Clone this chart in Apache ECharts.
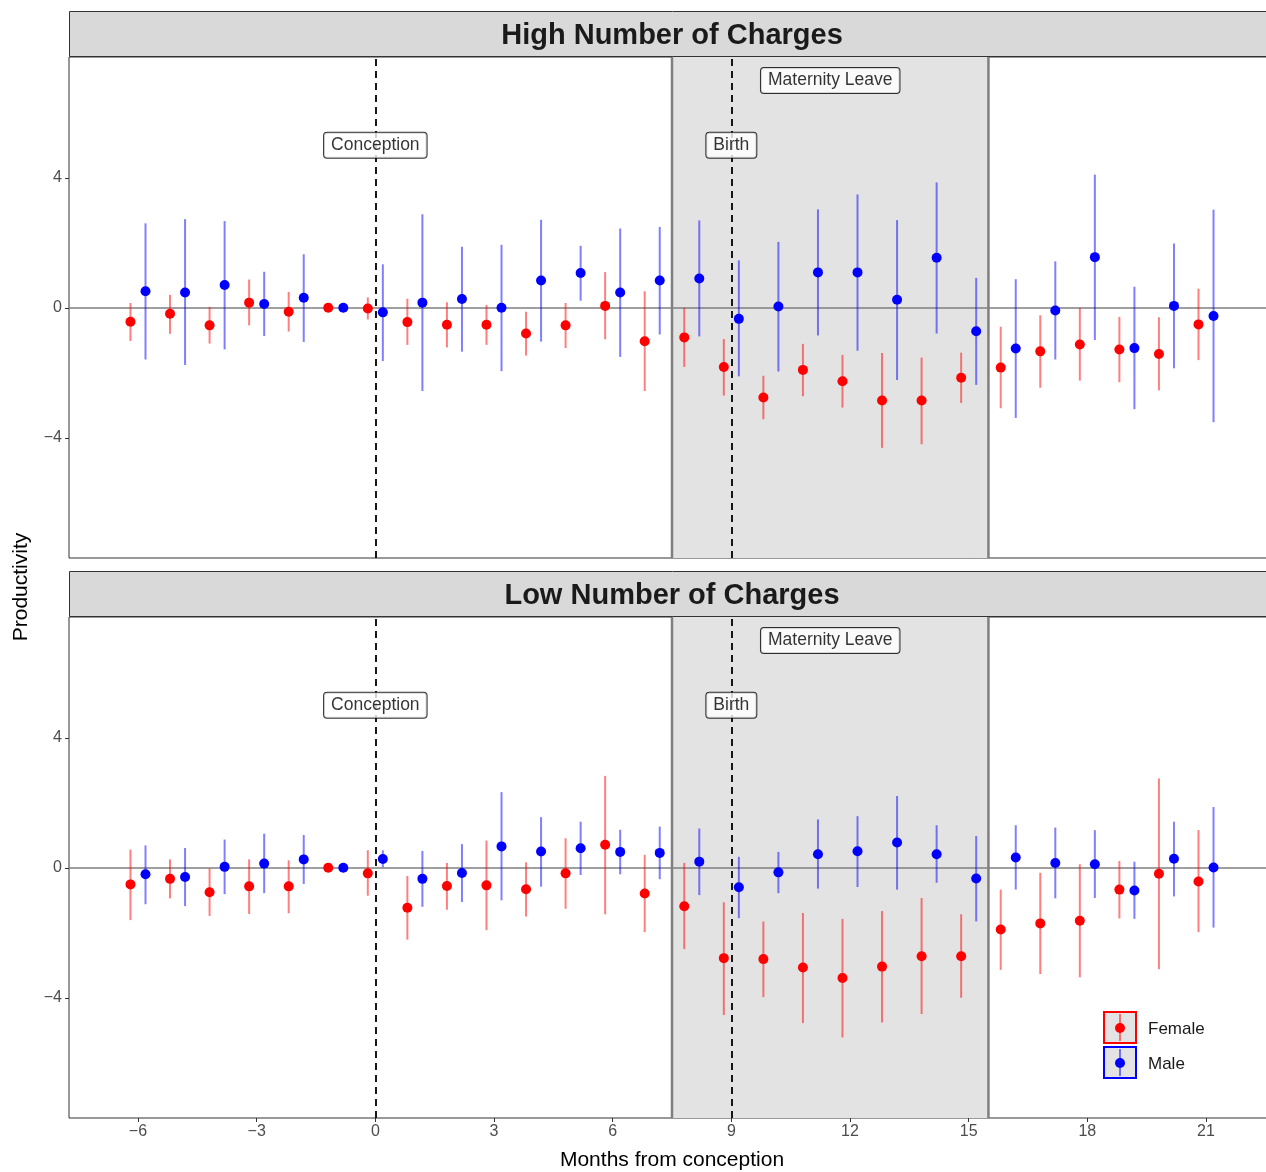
<!DOCTYPE html>
<html>
<head>
<meta charset="utf-8">
<script src="https://cdn.jsdelivr.net/npm/echarts@6/dist/echarts.min.js"></script>
<style>
  html, body { margin: 0; padding: 0; background: #fff; overflow: hidden; }
  #chart { width: 1280px; height: 1172px; }
</style>
</head>
<body>
<div id="chart"></div>
<script>
// months from conception
const months = [-6, -5, -4, -3, -2, -1, 0, 1, 2, 3, 4, 5, 6, 7, 8, 9, 10, 11, 12, 13, 14, 15, 16, 17, 18, 19, 20, 21];

// High number of charges
const highFemale = [-0.43, -0.18, -0.54, 0.16, -0.12, 0, -0.02, -0.44, -0.52, -0.52, -0.79, -0.54, 0.06, -1.03, -0.91, -1.82, -2.76, -1.91, -2.26, -2.85, -2.85, -2.15, -1.84, -1.34, -1.13, -1.28, -1.42, -0.51];
const highFemaleLo = [-1.02, -0.8, -1.1, -0.54, -0.73, 0, -0.36, -1.14, -1.22, -1.14, -1.47, -1.24, -0.97, -2.56, -1.82, -2.7, -3.43, -2.72, -3.07, -4.31, -4.2, -2.93, -3.09, -2.46, -2.24, -2.29, -2.54, -1.61];
const highFemaleHi = [0.15, 0.4, 0.03, 0.87, 0.49, 0, 0.32, 0.28, 0.17, 0.09, -0.12, 0.15, 1.1, 0.51, 0, -0.96, -2.09, -1.11, -1.45, -1.39, -1.53, -1.38, -0.58, -0.23, 0, -0.28, -0.29, 0.59];
const highMale = [0.51, 0.47, 0.7, 0.12, 0.31, 0, -0.14, 0.16, 0.27, 0, 0.84, 1.07, 0.47, 0.84, 0.9, -0.34, 0.04, 1.09, 1.09, 0.25, 1.54, -0.72, -1.25, -0.08, 1.56, -1.24, 0.06, -0.25];
const highMaleLo = [-1.59, -1.76, -1.28, -0.87, -1.05, 0, -1.64, -2.56, -1.35, -1.95, -1.04, 0.22, -1.51, -0.82, -0.88, -2.11, -1.96, -0.85, -1.32, -2.22, -0.79, -2.37, -3.39, -1.59, -0.99, -3.12, -1.86, -3.52];
const highMaleHi = [2.6, 2.73, 2.67, 1.11, 1.65, 0, 1.34, 2.88, 1.88, 1.94, 2.71, 1.91, 2.44, 2.49, 2.69, 1.46, 2.03, 3.03, 3.49, 2.7, 3.86, 0.92, 0.88, 1.43, 4.1, 0.65, 1.98, 3.02];

// Low number of charges
const lowFemale = [-0.51, -0.34, -0.75, -0.57, -0.57, 0, -0.17, -1.23, -0.56, -0.54, -0.66, -0.17, 0.71, -0.79, -1.18, -2.78, -2.81, -3.07, -3.39, -3.04, -2.72, -2.72, -1.9, -1.71, -1.63, -0.67, -0.18, -0.42];
const lowFemaleLo = [-1.61, -0.94, -1.48, -1.42, -1.4, 0, -0.86, -2.21, -1.29, -1.92, -1.5, -1.26, -1.43, -1.98, -2.5, -4.53, -3.98, -4.78, -5.22, -4.76, -4.5, -4.0, -3.14, -3.27, -3.37, -1.56, -3.12, -1.98];
const lowFemaleHi = [0.56, 0.26, -0.02, 0.26, 0.23, 0, 0.54, -0.25, 0.15, 0.84, 0.17, 0.91, 2.83, 0.4, 0.15, -1.06, -1.65, -1.39, -1.57, -1.33, -0.93, -1.43, -0.67, -0.15, 0.11, 0.21, 2.75, 1.16];
const lowMale = [-0.2, -0.28, 0.03, 0.13, 0.26, 0, 0.27, -0.34, -0.16, 0.66, 0.5, 0.6, 0.49, 0.46, 0.19, -0.6, -0.14, 0.42, 0.51, 0.78, 0.42, -0.33, 0.32, 0.15, 0.11, -0.7, 0.28, 0.01];
const lowMaleLo = [-1.12, -1.18, -0.81, -0.78, -0.5, 0, 0.02, -1.2, -1.05, -1.0, -0.58, -0.22, -0.2, -0.35, -0.84, -1.55, -0.78, -0.64, -0.59, -0.67, -0.46, -1.65, -0.67, -0.94, -0.93, -1.57, -0.88, -1.84];
const lowMaleHi = [0.69, 0.61, 0.87, 1.05, 1.01, 0, 0.54, 0.52, 0.73, 2.33, 1.56, 1.42, 1.17, 1.27, 1.21, 0.34, 0.49, 1.49, 1.59, 2.21, 1.31, 0.98, 1.31, 1.24, 1.16, 0.19, 1.42, 1.87];

// tick labels
const xTicks = [-6, -3, 0, 3, 6, 9, 12, 15, 18, 21];
const yTicks = [-4, 0, 4];

// events / annotations
const eventLines = [0, 9];
const leaveSpan = [7.5, 15.5];
const noteX = [0, 9, 11.5];
const noteY = [5, 5, 7];
const noteText = ["Conception", "Birth", "Maternity Leave"];

const panelTitles = ["High Number of Charges", "Low Number of Charges"];

const FONT = "Liberation Sans, Arial, Helvetica, sans-serif";
const X_MIN = -7.744, X_MAX = 22.744;
const Y_MIN = -7.7, Y_MAX = 7.72;
const DODGE = 0.19;
const RED = "#ff0000", BLUE = "#0000ff";

const minus = v => String(v).replace("-", "\u2212");

const chart = echarts.init(document.getElementById("chart"));

const panelTop = [57, 617];
const panelH = 501;

function pts(est, off) {
  return months.map((m, i) => [m + off, est[i]]);
}
function bars(lo, hi, off) {
  return months.map((m, i) => [m + off, lo[i], hi[i]]);
}

function errorSeries(idx, data, color) {
  return {
    type: "custom",
    xAxisIndex: idx,
    yAxisIndex: idx,
    z: 3,
    silent: true,
    data: data,
    encode: { x: 0, y: [1, 2] },
    renderItem: function (params, api) {
      const a = api.coord([api.value(0), api.value(1)]);
      const b = api.coord([api.value(0), api.value(2)]);
      return {
        type: "line",
        shape: { x1: a[0], y1: a[1], x2: b[0], y2: b[1] },
        style: { stroke: color, lineWidth: 2, opacity: 0.5 }
      };
    }
  };
}

function pointSeries(idx, data, color, name) {
  return {
    type: "scatter",
    name: name,
    xAxisIndex: idx,
    yAxisIndex: idx,
    z: 4,
    symbolSize: 10,
    itemStyle: { color: color, opacity: 1 },
    data: data
  };
}

function shadeSeries(idx) {
  return {
    type: "custom",
    xAxisIndex: idx,
    yAxisIndex: idx,
    z: 1,
    silent: true,
    data: [leaveSpan],
    renderItem: function (params, api) {
      const p1 = api.coord([api.value(0), Y_MAX]);
      const p2 = api.coord([api.value(1), Y_MIN]);
      return {
        type: "group",
        children: [
          { type: "rect", shape: { x: p1[0], y: p1[1], width: p2[0] - p1[0], height: p2[1] - p1[1] },
            style: { fill: "#e3e3e3" } },
          { type: "line", shape: { x1: p1[0], y1: p1[1], x2: p1[0], y2: p2[1] },
            style: { stroke: "#7f7f7f", lineWidth: 2.5 } },
          { type: "line", shape: { x1: p2[0], y1: p1[1], x2: p2[0], y2: p2[1] },
            style: { stroke: "#7f7f7f", lineWidth: 2.5 } }
        ]
      };
    },
    markLine: {
      silent: true,
      symbol: "none",
      label: { show: false },
      z: 2,
      data: [
        { yAxis: 0, lineStyle: { color: "#7f7f7f", width: 1.5, type: "solid" } }
      ].concat(eventLines.map(v => ({ xAxis: v, lineStyle: { color: "#000", width: 1.8, type: [7, 5] } })))
    }
  };
}

function noteSeries(idx) {
  return {
    type: "scatter",
    xAxisIndex: idx,
    yAxisIndex: idx,
    z: 6,
    silent: true,
    symbolSize: 0,
    data: noteX.map((x, i) => ({ value: [x, noteY[i]], name: noteText[i] })),
    label: {
      show: true,
      position: "inside",
      formatter: "{b}",
      fontFamily: FONT,
      fontSize: 17.5,
      color: "#000",
      backgroundColor: "#fff",
      borderColor: "#000",
      borderWidth: 1,
      borderRadius: 3,
      padding: [4, 7, 3, 7]
    }
  };
}

// chart div is 1280 wide (clipped at 1266), so the panel's right edge sits just off-picture
const grids = panelTop.map(t => ({
  left: 69, right: 5, top: t, height: panelH,
  show: true, borderColor: "#333", borderWidth: 1, backgroundColor: "transparent"
}));

const xAxes = [0, 1].map(i => ({
  type: "value",
  gridIndex: i,
  min: X_MIN,
  max: X_MAX,
  axisLine: { show: false, onZero: false },
  splitLine: { show: false },
  axisTick: { show: i === 1, customValues: xTicks, length: 4, lineStyle: { color: "#333", width: 1 } },
  axisLabel: {
    show: i === 1, customValues: xTicks, formatter: minus,
    color: "#4d4d4d", fontFamily: FONT, fontSize: 16, margin: 6
  }
}));

const yAxes = [0, 1].map(i => ({
  type: "value",
  gridIndex: i,
  min: Y_MIN,
  max: Y_MAX,
  axisLine: { show: false, onZero: false },
  splitLine: { show: false },
  axisTick: { show: true, customValues: yTicks, length: 4, lineStyle: { color: "#333", width: 1 } },
  axisLabel: {
    customValues: yTicks, formatter: minus,
    color: "#4d4d4d", fontFamily: FONT, fontSize: 16, margin: 7
  }
}));

const series = [
  shadeSeries(0),
  errorSeries(0, bars(highFemaleLo, highFemaleHi, -DODGE), RED),
  errorSeries(0, bars(highMaleLo, highMaleHi, DODGE), BLUE),
  pointSeries(0, pts(highFemale, -DODGE), RED, "Female"),
  pointSeries(0, pts(highMale, DODGE), BLUE, "Male"),
  noteSeries(0),
  shadeSeries(1),
  errorSeries(1, bars(lowFemaleLo, lowFemaleHi, -DODGE), RED),
  errorSeries(1, bars(lowMaleLo, lowMaleHi, DODGE), BLUE),
  pointSeries(1, pts(lowFemale, -DODGE), RED, "Female"),
  pointSeries(1, pts(lowMale, DODGE), BLUE, "Male"),
  noteSeries(1)
];

// facet strips, axis titles, legend keys
const graphics = [];
panelTop.forEach((t, i) => {
  graphics.push({
    type: "rect", left: 69, top: t - 46,
    shape: { width: 1206, height: 45 },
    style: { fill: "#d9d9d9", stroke: "#333", lineWidth: 1 }
  });
  graphics.push({
    type: "text", x: 672, y: t - 21,
    style: { text: panelTitles[i], fill: "#1a1a1a", font: "bold 29px " + FONT, align: "center", verticalAlign: "middle" }
  });
});
graphics.push({
  type: "text", x: 672, y: 1160,
  style: { text: "Months from conception", fill: "#000", font: "21px " + FONT, align: "center", verticalAlign: "middle" }
});
graphics.push({
  type: "text", x: 21, y: 587, rotation: Math.PI / 2,
  style: { text: "Productivity", fill: "#000", font: "21px " + FONT, align: "center", verticalAlign: "middle" }
});
[["Female", RED, 1012], ["Male", BLUE, 1047]].forEach(([label, col, top]) => {
  graphics.push({ type: "rect", shape: { x: 1104, y: top, width: 32, height: 31 },
    style: { fill: "#e3e3e3", stroke: col, lineWidth: 2 } });
  graphics.push({ type: "line", shape: { x1: 1120, y1: top + 2, x2: 1120, y2: top + 29 },
    style: { stroke: col, lineWidth: 2, opacity: 0.5 } });
  graphics.push({ type: "circle", shape: { cx: 1120, cy: top + 16, r: 5 }, style: { fill: col } });
  graphics.push({ type: "text", x: 1148, y: top + 17,
    style: { text: label, fill: "#1a1a1a", font: "17px " + FONT, verticalAlign: "middle" } });
});

chart.setOption({
  animation: false,
  backgroundColor: "#fff",
  grid: grids,
  xAxis: xAxes,
  yAxis: yAxes,
  series: series,
  graphic: graphics
});
</script>
</body>
</html>
